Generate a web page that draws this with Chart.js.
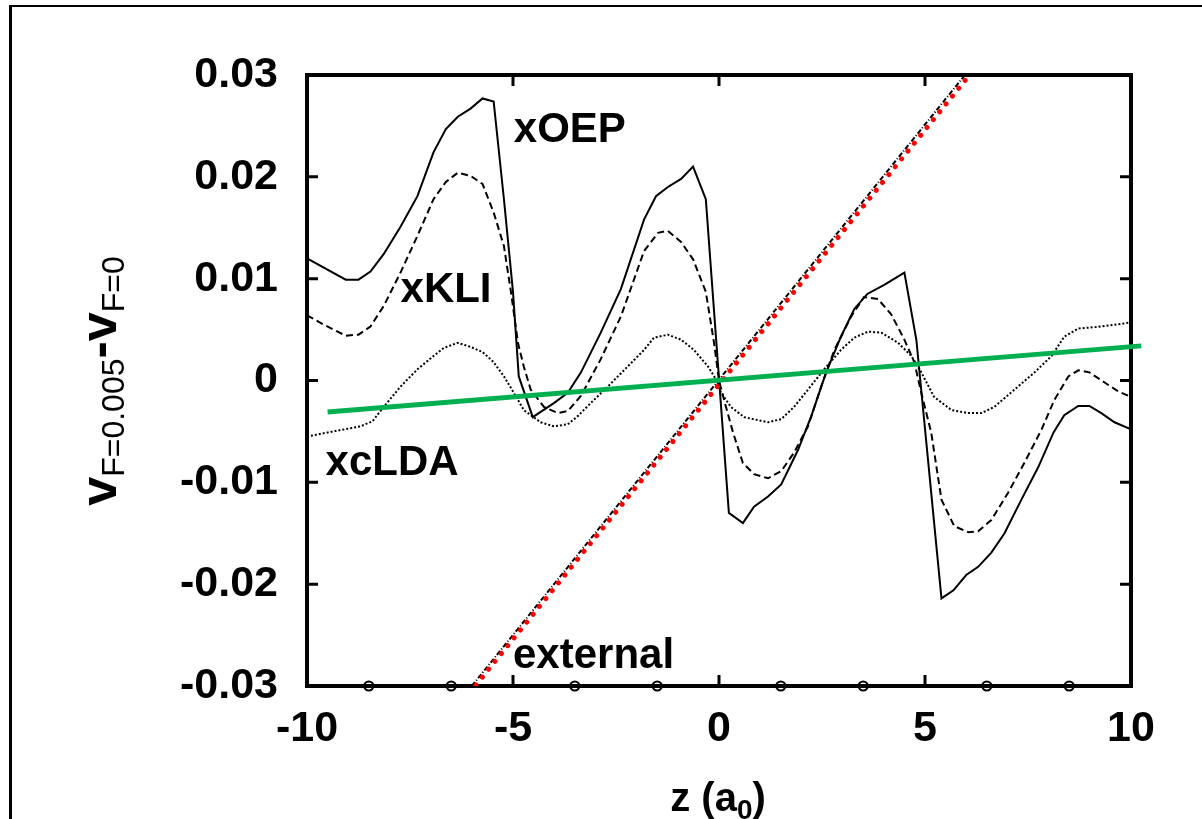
<!DOCTYPE html>
<html>
<head>
<meta charset="utf-8">
<script src="https://cdn.jsdelivr.net/npm/chart.js@4.4.1/dist/chart.umd.min.js"></script>
<style>
  body { margin: 0; background: #fff; }
  #wrap { position: relative; width: 1202px; height: 819px; overflow: hidden; }
  #frame { position: absolute; left: 9px; top: 5px; width: 1300px; height: 900px;
           border-left: 3px solid #000; border-top: 2px solid #000; }
  .title { position: absolute; font-family: 'Liberation Sans', Arial, sans-serif;
           font-weight: bold; color: #000; white-space: nowrap; }
  #ytitle { left: 100px; top: 381px; font-size: 52px;
            transform: translate(-50%, -50%) rotate(-90deg); }
  #ytitle sub { font-size: 32px; font-weight: normal; vertical-align: -8px; }
  #xtitle { left: 718px; top: 800px; font-size: 40px; transform: translate(-50%, -50%); }
  #xtitle sub { font-size: 28px; vertical-align: -8px; }
</style>
</head>
<body>
<div id="wrap">
  <div id="frame"></div>
  <canvas id="chart"></canvas>
  <div class="title" id="ytitle">v<sub>F=0.005</sub>-v<sub>F=0</sub></div>
  <div class="title" id="xtitle">z (a<sub>0</sub>)</div>
</div>
<script>
// tick values / labels
const xTicks = [-10, -5, 0, 5, 10];
const xTickLabels = ['-10', '-5', '0', '5', '10'];
const yTicks = [-0.03, -0.02, -0.01, 0, 0.01, 0.02, 0.03];
const yTickLabels = ['-0.03', '-0.02', '-0.01', '0', '0.01', '0.02', '0.03'];

// xOEP (solid)
const oepZ = [-10, -9.06, -8.75, -8.46, -8.14, -7.73, -7.32, -6.93, -6.63, -6.34, -6.03, -5.74, -5.47,
  -5.22, -5.0, -4.86, -4.52, -4.0, -3.67, -3.35, -2.87, -2.38, -1.82, -1.53, -1.24, -0.92, -0.63, -0.32,
  0.24, 0.58, 0.85, 1.19, 1.51, 1.92, 2.24, 2.6, 2.96, 3.28, 3.6, 4.01, 4.5, 4.79, 5.4, 5.69, 6.0,
  6.29, 6.61, 6.93, 7.34, 7.75, 8.12, 8.38, 8.72, 8.99, 9.28, 9.6, 10];
const oepV = [0.0120, 0.0099, 0.0099, 0.0107, 0.0124, 0.0151, 0.0181, 0.0224, 0.0247, 0.0259, 0.0267, 0.0277, 0.0274,
  0.0178, 0.0087, 0.0004, -0.0036, -0.0022, -0.0012, 0.0008, 0.0047, 0.0090, 0.0158, 0.0181, 0.0190, 0.0198, 0.0210, 0.0178,
  -0.0130, -0.0140, -0.0124, -0.0114, -0.0102, -0.0068, -0.0035, 0.0008, 0.0043, 0.0070, 0.0085, 0.0094, 0.0106, 0.0040, -0.0214, -0.0206, -0.0191,
  -0.0183, -0.0169, -0.0150, -0.0117, -0.0085, -0.0051, -0.0034, -0.0025, -0.0025, -0.0032, -0.0041, -0.0048];

// xKLI (dashed)
const kliZ = [-10, -9.6, -9.06, -8.75, -8.46, -8.14, -7.73, -7.32, -6.93, -6.63, -6.34, -6.03, -5.74, -5.47,
  -5.22, -5.05, -4.88, -4.74, -4.57, -4.25, -3.91, -3.67, -3.35, -2.87, -2.38, -1.82, -1.48, -1.24, -0.92,
  -0.63, -0.32, -0.12, 0, 0.17, 0.34, 0.58, 0.85, 1.19, 1.51, 1.82, 2.16, 2.48, 2.8, 3.21, 3.52, 3.86,
  4.18, 4.5, 4.74, 4.91, 5.15, 5.4, 5.71, 6.05, 6.29, 6.61, 7.02, 7.41, 7.83, 8.14, 8.48, 8.72, 8.99,
  9.36, 9.7, 10];
const kliV = [0.0064, 0.0055, 0.0044, 0.0045, 0.0053, 0.0073, 0.0106, 0.0142, 0.0178, 0.0195, 0.0204, 0.0201, 0.0193, 0.0165,
  0.0132, 0.0087, 0.0037, 0.0014, -0.0009, -0.0026, -0.0032, -0.0030, -0.0015, 0.0021, 0.0063, 0.0127, 0.0145, 0.0147, 0.0136,
  0.0119, 0.0087, 0.0037, 0.0, -0.0026, -0.0051, -0.0081, -0.0092, -0.0096, -0.0089, -0.0071, -0.0045, -0.0006, 0.0030, 0.0063, 0.0082, 0.0080,
  0.0065, 0.0040, 0.0018, -0.0012, -0.0051, -0.0117, -0.0143, -0.0149, -0.0148, -0.0137, -0.0110, -0.0081, -0.0048, -0.0019, 0.0004, 0.0010, 0.0008,
  -0.0002, -0.0011, -0.0016];

// xcLDA (dotted)
const ldaZ = [-10, -9.36, -8.7, -8.41, -8.14, -7.73, -7.32, -6.93, -6.68, -6.34, -6.03, -5.74, -5.47, -5.22,
  -4.98, -4.74, -4.33, -4.01, -3.67, -3.43, -3.11, -2.7, -2.21, -1.82, -1.58, -1.24, -0.92, -0.61, -0.27,
  -0.07, 0.05, 0.29, 0.61, 1.19, 1.51, 1.82, 2.16, 2.55, 2.96, 3.28, 3.62, 3.94, 4.35, 4.67, 4.91, 5.22,
  5.64, 6.05, 6.37, 6.68, 7.17, 7.66, 8.07, 8.38, 8.72, 9.28, 10];
const ldaV = [-0.0055, -0.0050, -0.0045, -0.0040, -0.0026, -0.0006, 0.0011, 0.0024, 0.0032, 0.0037, 0.0033, 0.0028, 0.0018, 0.0004,
  -0.0012, -0.0029, -0.0041, -0.0045, -0.0043, -0.0035, -0.0022, -0.0006, 0.0014, 0.0030, 0.0042, 0.0045, 0.0040, 0.0030, 0.0014,
  0.0001, -0.0012, -0.0026, -0.0036, -0.0041, -0.0038, -0.0026, -0.0009, 0.0011, 0.0030, 0.0042, 0.0048, 0.0047, 0.0037, 0.0024, 0.0008, -0.0016,
  -0.0029, -0.0032, -0.0032, -0.0026, -0.0009, 0.0008, 0.0024, 0.0043, 0.0051, 0.0053, 0.0057];

// external potential (black dash-dot and red dots)
const extZ = [-6.0, 5.97];
const extV = [-0.03, 0.03];
const extRedZ = [-5.9, 6.08];
const extRedV = [-0.0299, 0.03];

// green line
const greenZ = [-9.5, 10.25];
const greenV = [-0.0031, 0.0034];

// atom positions along the bottom axis
const atomZ = [-8.5, -6.5, -3.5, -1.5, 1.5, 3.5, 6.5, 8.5];

// curve labels
const noteText = ['xOEP', 'xKLI', 'xcLDA', 'external'];
const noteZ = [-4.98, -7.73, -9.55, -5.0];
const noteV = [0.0234, 0.0077, -0.0093, -0.0282];

const FONT = "'Liberation Sans', Arial, sans-serif";
const pts = (zs, vs) => zs.map((z, i) => ({ x: z, y: vs[i] }));

const frameTicks = {
    id: 'frameTicks',
    beforeDatasetsDraw(chart) {
        const { ctx, chartArea: a, scales } = chart;
        ctx.save();
        ctx.strokeStyle = '#000';
        ctx.lineWidth = 4;
        ctx.strokeRect(a.left, a.top, a.right - a.left, a.bottom - a.top);
        ctx.lineWidth = 3;
        ctx.beginPath();
        xTicks.forEach(v => {
            const px = scales.x.getPixelForValue(v);
            ctx.moveTo(px, a.bottom); ctx.lineTo(px, a.bottom - 11);
            ctx.moveTo(px, a.top); ctx.lineTo(px, a.top + 11);
        });
        yTicks.forEach(v => {
            const py = scales.y.getPixelForValue(v);
            ctx.moveTo(a.left, py); ctx.lineTo(a.left + 11, py);
            ctx.moveTo(a.right, py); ctx.lineTo(a.right - 11, py);
        });
        ctx.stroke();
        ctx.restore();
    },
    afterDatasetsDraw(chart) {
        const { ctx, scales } = chart;
        ctx.save();
        ctx.fillStyle = '#000';
        ctx.font = 'bold 42px ' + FONT;
        ctx.textAlign = 'left';
        ctx.textBaseline = 'alphabetic';
        noteText.forEach((t, i) => {
            ctx.fillText(t, scales.x.getPixelForValue(noteZ[i]), scales.y.getPixelForValue(noteV[i]));
        });
        ctx.restore();
    }
};

const lineBase = { showLine: true, pointRadius: 0, fill: false, tension: 0 };

new Chart(document.getElementById('chart'), {
    type: 'scatter',
    data: {
        datasets: [
            { ...lineBase, label: 'atoms', showLine: false, data: atomZ.map(z => ({ x: z, y: yTicks[0] })),
              pointRadius: 4.5, pointBackgroundColor: 'rgba(0,0,0,0)', pointBorderColor: '#000', pointBorderWidth: 2.2,
              clip: false, order: 0 },
            { ...lineBase, label: 'green', data: pts(greenZ, greenV), borderColor: '#00b050', borderWidth: 5,
              clip: false, order: 1 },
            { ...lineBase, label: 'external red', data: pts(extRedZ, extRedV), borderColor: '#ff0000', borderWidth: 5,
              borderDash: [0.1, 10], borderCapStyle: 'round', order: 2 },
            { ...lineBase, label: 'external', data: pts(extZ, extV), borderColor: '#000', borderWidth: 2,
              borderDash: [5, 2, 1, 2], order: 3 },
            { ...lineBase, label: 'xOEP', data: pts(oepZ, oepV), borderColor: '#000', borderWidth: 2, order: 4 },
            { ...lineBase, label: 'xKLI', data: pts(kliZ, kliV), borderColor: '#000', borderWidth: 2,
              borderDash: [7, 4], order: 5 },
            { ...lineBase, label: 'xcLDA', data: pts(ldaZ, ldaV), borderColor: '#000', borderWidth: 2,
              borderDash: [2, 2], order: 6 }
        ]
    },
    options: {
        responsive: true,
        maintainAspectRatio: false,
        animation: false,
        layout: { padding: { top: 75, right: 71, left: 0, bottom: 0 } },
        plugins: { legend: { display: false }, tooltip: { enabled: false } },
        scales: {
            x: {
                type: 'linear', min: -10, max: 10,
                grid: { display: false, drawTicks: false },
                border: { display: false },
                afterBuildTicks: s => { s.ticks = xTicks.map(v => ({ value: v })); },
                afterFit: s => { s.height = 133; },
                ticks: {
                    color: '#000', padding: 17, maxRotation: 0,
                    font: { family: FONT, size: 43, weight: 'bold' },
                    callback: v => xTickLabels[xTicks.indexOf(v)]
                }
            },
            y: {
                type: 'linear', min: -0.03, max: 0.03,
                grid: { display: false, drawTicks: false },
                border: { display: false },
                afterBuildTicks: s => { s.ticks = yTicks.map(v => ({ value: v })); },
                afterFit: s => { s.width = 307; },
                ticks: {
                    color: '#000', padding: 29,
                    font: { family: FONT, size: 43, weight: 'bold' },
                    callback: v => yTickLabels[yTicks.indexOf(v)]
                }
            }
        }
    },
    plugins: [frameTicks]
});
</script>
</body>
</html>
